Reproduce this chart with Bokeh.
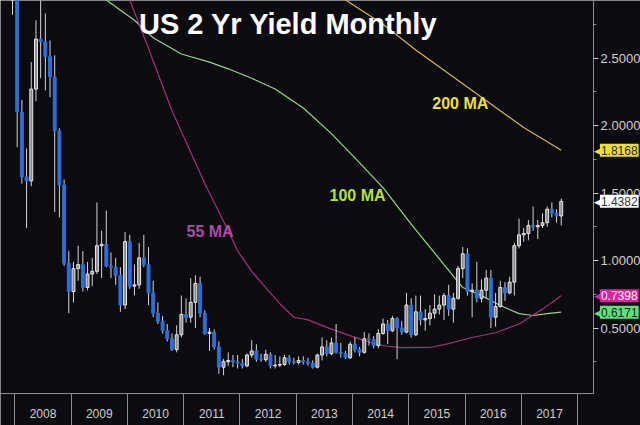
import pandas as pd
from bokeh.plotting import figure
from bokeh.models import ColumnDataSource, FixedTicker, Label, NumeralTickFormatter, Range1d
from bokeh.embed import file_html
from bokeh.resources import INLINE

# ---------------- data (US 2 Yr yield, monthly OHLC, Dec 2007 .. Sep 2017) ----------------
start_month = "2007-12"

opens = [3.02,
         3.05, 2.10, 1.62, 1.59, 2.27, 2.64, 2.62, 2.51, 2.36, 1.96, 1.56, 0.98,
         0.77, 0.94, 0.97, 0.80, 0.90, 0.92, 1.11, 1.12, 0.96, 0.95, 0.89, 0.67,
         1.14, 0.81, 0.82, 1.02, 0.97, 0.76, 0.61, 0.55, 0.48, 0.42, 0.34, 0.45,
         0.60, 0.58, 0.69, 0.83, 0.61, 0.46, 0.47, 0.36, 0.21, 0.25, 0.26, 0.25,
         0.24, 0.22, 0.30, 0.33, 0.27, 0.265, 0.305, 0.22, 0.225, 0.23, 0.28, 0.25,
         0.245, 0.26, 0.25, 0.24, 0.21, 0.30, 0.36, 0.31, 0.39, 0.32, 0.31, 0.28,
         0.38, 0.34, 0.32, 0.42, 0.415, 0.37, 0.46, 0.53, 0.48, 0.57, 0.50, 0.47,
         0.67, 0.45, 0.62, 0.56, 0.57, 0.61, 0.64, 0.67, 0.74, 0.64, 0.72, 0.94,
         1.05, 0.77, 0.78, 0.72, 0.78, 0.87, 0.58, 0.66, 0.80, 0.76, 0.84, 1.11,
         1.19, 1.20, 1.26, 1.25, 1.26, 1.28, 1.38, 1.35, 1.33]
highs = [3.34,
         3.10, 2.19, 1.83, 2.47, 2.78, 3.06, 2.83, 2.63, 2.52, 1.98, 1.60, 1.07,
         0.99, 1.11, 1.07, 0.99, 1.02, 1.43, 1.22, 1.37, 1.06, 1.02, 0.95, 1.21,
         1.19, 0.97, 1.13, 1.19, 1.10, 0.85, 0.69, 0.59, 0.53, 0.46, 0.52, 0.74,
         0.72, 0.87, 0.89, 0.88, 0.63, 0.50, 0.49, 0.40, 0.27, 0.32, 0.30, 0.30,
         0.27, 0.31, 0.41, 0.38, 0.31, 0.34, 0.32, 0.30, 0.29, 0.30, 0.30, 0.28,
         0.29, 0.29, 0.28, 0.26, 0.31, 0.43, 0.41, 0.43, 0.53, 0.39, 0.33, 0.40,
         0.43, 0.36, 0.47, 0.46, 0.44, 0.49, 0.57, 0.56, 0.59, 0.58, 0.55, 0.76,
         0.72, 0.74, 0.74, 0.64, 0.67, 0.75, 0.74, 0.76, 0.82, 0.76, 0.96, 1.10,
         1.09, 0.83, 0.99, 0.86, 0.93, 0.93, 0.76, 0.85, 0.84, 0.88, 1.13, 1.31,
         1.24, 1.30, 1.40, 1.30, 1.35, 1.40, 1.43, 1.38, 1.46]
lows = [2.82,
        1.84, 1.57, 1.24, 1.55, 2.18, 2.35, 2.26, 2.21, 1.36, 1.32, 0.96, 0.61,
        0.69, 0.85, 0.77, 0.78, 0.81, 0.90, 0.87, 0.95, 0.87, 0.82, 0.62, 0.64,
        0.79, 0.74, 0.79, 0.95, 0.67, 0.58, 0.53, 0.46, 0.40, 0.33, 0.32, 0.43,
        0.54, 0.54, 0.50, 0.58, 0.45, 0.33, 0.34, 0.16, 0.15, 0.22, 0.21, 0.20,
        0.20, 0.21, 0.28, 0.25, 0.25, 0.25, 0.20, 0.20, 0.21, 0.22, 0.23, 0.23,
        0.23, 0.23, 0.22, 0.20, 0.20, 0.26, 0.29, 0.30, 0.31, 0.28, 0.27, 0.27,
        0.32, 0.29, 0.31, 0.37, 0.35, 0.35, 0.45, 0.38, 0.47, 0.27, 0.45, 0.46,
        0.43, 0.44, 0.52, 0.48, 0.52, 0.57, 0.60, 0.56, 0.59, 0.54, 0.71, 0.87,
        0.74, 0.58, 0.69, 0.69, 0.72, 0.50, 0.51, 0.65, 0.70, 0.75, 0.74, 1.09,
        1.14, 1.15, 1.22, 1.16, 1.24, 1.25, 1.32, 1.28, 1.26]
closes = [3.05,
          2.10, 1.62, 1.59, 2.27, 2.64, 2.62, 2.51, 2.36, 1.96, 1.56, 0.98, 0.77,
          0.94, 0.97, 0.80, 0.90, 0.92, 1.11, 1.12, 0.96, 0.95, 0.89, 0.67, 1.14,
          0.81, 0.82, 1.02, 0.97, 0.76, 0.61, 0.55, 0.48, 0.42, 0.34, 0.45, 0.60,
          0.58, 0.69, 0.83, 0.61, 0.46, 0.47, 0.36, 0.21, 0.25, 0.26, 0.25, 0.24,
          0.22, 0.30, 0.33, 0.27, 0.265, 0.305, 0.22, 0.225, 0.23, 0.28, 0.25, 0.245,
          0.26, 0.25, 0.24, 0.21, 0.30, 0.36, 0.31, 0.39, 0.32, 0.31, 0.28, 0.38,
          0.34, 0.32, 0.42, 0.415, 0.37, 0.46, 0.53, 0.48, 0.57, 0.50, 0.47, 0.67,
          0.45, 0.62, 0.56, 0.57, 0.61, 0.64, 0.67, 0.74, 0.64, 0.72, 0.94, 1.05,
          0.77, 0.78, 0.72, 0.78, 0.87, 0.58, 0.66, 0.80, 0.76, 0.84, 1.11, 1.19,
          1.20, 1.26, 1.25, 1.26, 1.28, 1.38, 1.35, 1.33, 1.4382]

# moving averages at selected months
ma55_months = ["2009-09", "2010-01", "2010-05", "2010-10", "2011-05", "2011-10", "2011-12",
               "2012-03", "2012-06", "2012-09", "2012-12", "2013-03", "2013-07", "2013-11",
               "2014-02", "2014-05", "2014-08", "2014-11", "2015-05", "2015-09", "2016-02",
               "2016-07", "2016-12", "2017-05", "2017-09"]
ma55_values = [3.25, 2.93, 2.57, 2.11, 1.57, 1.22, 1.07,
               0.92, 0.80, 0.68, 0.58, 0.56, 0.505, 0.455,
               0.42, 0.385, 0.365, 0.355, 0.356, 0.385, 0.43,
               0.465, 0.53, 0.64, 0.7398]

ma100_months = ["2009-06", "2009-08", "2010-02", "2010-06", "2010-12", "2011-06", "2011-10",
                "2012-03", "2012-08", "2013-02", "2013-08", "2014-01", "2014-07", "2015-01",
                "2015-08", "2015-12", "2016-04", "2016-08", "2016-12", "2017-03", "2017-06",
                "2017-09"]
ma100_values = [3.05, 2.93, 2.78, 2.65, 2.53, 2.47, 2.42,
                2.35, 2.27, 2.13, 1.94, 1.76, 1.54, 1.27,
                0.97, 0.80, 0.74, 0.667, 0.607, 0.593, 0.607,
                0.6171]

ma200_months = ["2013-07", "2013-11", "2014-07", "2015-02", "2015-10", "2016-06", "2017-01", "2017-09"]
ma200_values = [3.05, 2.93, 2.75, 2.56, 2.36, 2.16, 1.985, 1.8168]

year_labels = ["2008", "2009", "2010", "2011", "2012", "2013", "2014", "2015", "2016", "2017"]
y_major = [0.5, 1.0, 1.5, 2.0, 2.5]
y_minor = [0.25, 0.75, 1.25, 1.75, 2.25, 2.75]

last_yield = 1.4382
last_ma55 = 0.7398
last_ma100 = 0.6171
last_ma200 = 1.8168

# view extents (month index 0 = Jan 2008)
X_START, X_PLOT_END, X_END = -3.56, 122.9, 132.9
Y_PLOT_BOTTOM, Y_TOP, Y_BOTTOM = 0.015, 2.926, -0.222


def month_index(period):
    return (period.year - 2008) * 12 + period.month - 1


months = pd.period_range(start_month, periods=len(closes), freq="M")
xs = [month_index(m) for m in months]
ups = [c >= o for o, c in zip(opens, closes)]

src = ColumnDataSource(dict(
    x=xs, open=opens, high=highs, low=lows, close=closes,
    top=[max(o, c) for o, c in zip(opens, closes)],
    bottom=[min(o, c) for o, c in zip(opens, closes)],
    fill=["#8a8a8a" if u else "#2d6fd8" for u in ups],
    line=["#e8e8e8" if u else "#2d6fd8" for u in ups],
))

FONT = "Liberation Sans"

p = figure(frame_width=640, frame_height=425,
           x_range=Range1d(X_START, X_END), y_range=Range1d(Y_BOTTOM, Y_TOP),
           y_axis_location="right", output_backend="svg", toolbar_location=None,
           min_border_left=0, min_border_top=0, min_border_right=0, min_border_bottom=0,
           background_fill_color="#0c0c10", border_fill_color="#08080a",
           outline_line_color=None)
p.grid.visible = False

# x axis: years labelled in the middle, separators at year boundaries
xa = p.xaxis[0]
xa.fixed_location = Y_PLOT_BOTTOM
xa.bounds = (X_START, X_PLOT_END)
year_centres = [5.5 + 12 * k for k in range(len(year_labels))]
xa.ticker = FixedTicker(ticks=year_centres,
                        minor_ticks=[-0.5 + 12 * k for k in range(len(year_labels) + 1)])
xa.major_label_overrides = {c: lab for c, lab in zip(year_centres, year_labels)}
xa.major_tick_out = 0
xa.major_tick_in = 0
xa.minor_tick_in = 0
xa.minor_tick_out = 33
xa.minor_tick_line_color = "#8c8c8c"
xa.axis_line_color = "#8c8c8c"
xa.major_label_standoff = -18
xa.major_label_text_color = "#cfcfcf"
xa.major_label_text_font = FONT
xa.major_label_text_font_size = "12px"

# y axis on the right edge of the plotting area
ya = p.yaxis[0]
ya.fixed_location = X_PLOT_END
ya.bounds = (Y_PLOT_BOTTOM, Y_TOP)
ya.ticker = FixedTicker(ticks=y_major, minor_ticks=y_minor)
ya.formatter = NumeralTickFormatter(format="0.0000")
ya.major_tick_in = 0
ya.major_tick_out = 5
ya.minor_tick_in = 0
ya.minor_tick_out = 3
ya.major_tick_line_color = "#cfcfcf"
ya.minor_tick_line_color = "#8c8c8c"
ya.axis_line_color = "#8c8c8c"
ya.major_label_standoff = 2
ya.major_label_text_color = "#d0d0d0"
ya.major_label_text_font = FONT
ya.major_label_text_font_size = "13px"


# moving averages
def ma_line(ms, vals, color):
    mx = [month_index(pd.Period(m, freq="M")) for m in ms]
    p.line(mx, vals, line_color=color, line_width=1.2)


ma_line(ma200_months, ma200_values, "#cbb94e")
ma_line(ma100_months, ma100_values, "#97d48a")
ma_line(ma55_months, ma55_values, "#a52f78")

# candles
p.segment(x0="x", y0="low", x1="x", y1="high", source=src, line_color="#d4d4d4", line_width=1)
p.vbar(x="x", width=0.62, top="top", bottom="bottom", fill_color="fill",
       line_color="line", line_width=1, source=src)

# title and MA labels
p.add_layout(Label(x=57.8, y=2.75, text="US 2 Yr Yield Monthly", text_align="center",
                   text_baseline="middle", text_color="#ffffff", text_font=FONT,
                   text_font_style="bold", text_font_size="29px"))
p.add_layout(Label(x=88.5, y=2.163, text="200 MA", text_baseline="middle",
                   text_color="#ece03c", text_font=FONT, text_font_style="bold",
                   text_font_size="16px"))
p.add_layout(Label(x=66.6, y=1.48, text="100 MA", text_baseline="middle",
                   text_color="#b6e03e", text_font=FONT, text_font_style="bold",
                   text_font_size="16px"))
p.add_layout(Label(x=36.1, y=1.215, text="55 MA", text_baseline="middle",
                   text_color="#a94ca8", text_font=FONT, text_font_style="bold",
                   text_font_size="16px"))


# last-value tags on the right axis
def tag(val, bg, fg):
    p.add_layout(Label(x=X_PLOT_END + 0.1, y=val, text="\u25c0", text_baseline="middle",
                       text_color=bg, text_font="DejaVu Sans", text_font_size="13px"))
    p.add_layout(Label(x=X_PLOT_END + 1.35, y=val, text=f"{val:.4f}", text_baseline="middle",
                       text_color=fg, text_font=FONT, text_font_size="12px",
                       background_fill_color=bg,
                       padding=dict(left=1, right=1, top=2, bottom=2)))


tag(last_ma200, "#f0de32", "#2a2a2a")
tag(last_yield, "#ffffff", "#333333")
tag(last_ma55, "#e0229e", "#ffffff")
tag(last_ma100, "#5fe07c", "#1c1c1c")

html = file_html(p, INLINE)
html = html.replace("<body>", '<body style="background-color:#08080a;">', 1)
open("out.html", "w").write(html)
